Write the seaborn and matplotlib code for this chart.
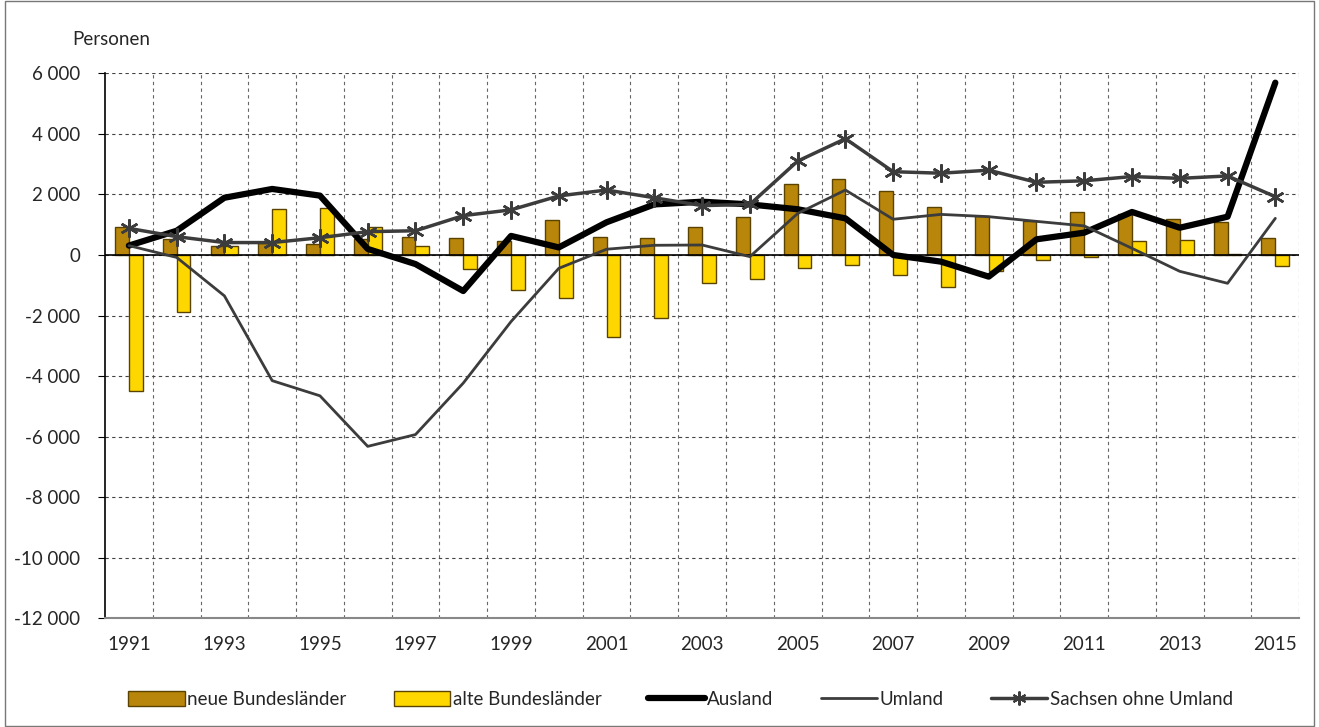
import numpy as np
import pandas as pd
import matplotlib
matplotlib.use("Agg")
import matplotlib.pyplot as plt
import seaborn as sns
from matplotlib.patches import Patch, Rectangle
from matplotlib.lines import Line2D
from matplotlib.ticker import FixedLocator, FuncFormatter

# Data (Personen)
years = list(range(1991, 2016))
neue = [920, 520, 290, 400, 360, 520, 590, 550, 450, 1170, 610, 550, 910, 1240,
        2330, 2510, 2100, 1570, 1300, 1130, 1420, 1340, 1180, 1080, 570]
alte = [-4500, -1890, 290, 1510, 1540, 935, 287, -450, -1170, -1410, -2720, -2070,
        -935, -790, -440, -340, -670, -1070, -520, -165, -77, 451, 495, 44, -352]
ausland = [310, 800, 1890, 2180, 1960, 200, -300, -1190, 630, 250, 1080, 1670,
           1760, 1670, 1510, 1210, 0, -220, -715, 517, 737, 1420, 900, 1265, 5690]
umland = [310, -80, -1350, -4150, -4650, -6320, -5930, -4230, -2200, -440, 190, 320,
          330, -55, 1370, 2145, 1180, 1340, 1265, 1110, 960, 220, -540, -935, 1210]
sachsen = [880, 605, 410, 410, 570, 770, 800, 1300, 1490, 1950, 2145, 1890, 1630,
           1670, 3100, 3840, 2750, 2700, 2800, 2400, 2450, 2590, 2530, 2610, 1925]

xlabels = [str(y) if (y - 1991) % 2 == 0 else "" for y in years]
yticks = list(range(-12000, 6001, 2000))

bar_df = pd.DataFrame({
    "Jahr": [str(y) for y in years] * 2,
    "Wert": neue + alte,
    "Reihe": ["neue Bundesländer"] * len(years) + ["alte Bundesländer"] * len(years),
})

c_neue = "#B8860B"
c_alte = "#FFD700"
c_edge = "#5A4300"
c_grey = "#3C3C3C"

sns.set_style("white")
plt.rcParams["font.family"] = ["Lato", "DejaVu Sans"]
plt.rcParams["axes.unicode_minus"] = False
fs = 13.5

fig = plt.figure(figsize=(13.19, 7.27), dpi=100)
ax = fig.add_axes([0.0796, 0.1494, 0.9054, 0.7498])

sns.barplot(data=bar_df, x="Jahr", y="Wert", hue="Reihe",
            palette=[c_neue, c_alte], saturation=1, width=0.58, edgecolor=c_edge,
            linewidth=1, legend=False, ax=ax, zorder=3)

pos = np.arange(len(years))
ax.axhline(0, color="black", lw=1.2, zorder=4)
sns.lineplot(x=pos, y=ausland, color="black", lw=4.5, ax=ax, zorder=5,
             solid_capstyle="round")
sns.lineplot(x=pos, y=umland, color=c_grey, lw=2, ax=ax, zorder=5)
sns.lineplot(x=pos, y=sachsen, color=c_grey, lw=2.5, marker=(6, 2, 0),
             markersize=13, markeredgecolor=c_grey, markeredgewidth=1.8,
             ax=ax, zorder=6)

ax.set_xlim(-0.5, len(years) - 0.5)
ax.set_ylim(-12000, 6000)
ax.yaxis.set_major_locator(FixedLocator(yticks))
ax.yaxis.set_major_formatter(FuncFormatter(lambda v, p: f"{v:,.0f}".replace(",", " ")))
ax.set_xticks(pos)
ax.set_xticklabels(xlabels)
ax.xaxis.set_minor_locator(FixedLocator(pos + 0.5))
ax.tick_params(axis="x", which="both", length=0, labelsize=fs, pad=13)
ax.tick_params(axis="y", length=5, width=0.8, color="black", labelsize=fs, pad=13,
               left=True)
ax.set_xlabel("")
ax.set_ylabel("")

ax.grid(axis="y", which="major", color="#444444", ls=(0, (3, 3)), lw=0.8, zorder=0)
ax.grid(axis="x", which="minor", color="#666666", ls=(0, (3, 3)), lw=0.8, zorder=0)
ax.grid(axis="x", which="major", visible=False)

for s in ["top", "right"]:
    ax.spines[s].set_visible(False)
ax.spines["left"].set_color("black")
ax.spines["left"].set_linewidth(1.2)
ax.spines["bottom"].set_color("#888888")
ax.spines["bottom"].set_linewidth(1.5)

fig.text(0.0545, 0.945, "Personen", fontsize=fs, ha="left", va="center")

handles = [
    Patch(facecolor=c_neue, edgecolor=c_edge, lw=1),
    Patch(facecolor=c_alte, edgecolor=c_edge, lw=1),
    Line2D([], [], color="black", lw=4.5),
    Line2D([], [], color=c_grey, lw=2),
    Line2D([], [], color=c_grey, lw=2.5, marker=(6, 2, 0), markersize=10,
           markeredgewidth=1.5),
]
labels = ["neue Bundesländer", "alte Bundesländer", "Ausland", "Umland",
          "Sachsen ohne Umland"]
fig.legend(handles, labels, loc="center", bbox_to_anchor=(0.516, 0.038), ncol=5,
           frameon=False, fontsize=fs, handlelength=3.0, handleheight=0.9,
           handletextpad=0.15, columnspacing=2.5)

fig.add_artist(Rectangle((0.004, 0.001), 0.992, 0.998, transform=fig.transFigure,
                         fill=False, edgecolor="#777777", lw=1))

fig.savefig("out.png", dpi=100)
